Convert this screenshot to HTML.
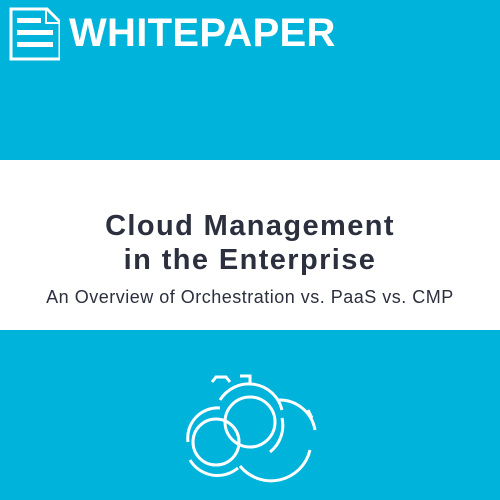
<!DOCTYPE html>
<html><head><style>
body{margin:0;width:500px;height:500px;background:#00b3db;position:relative;overflow:hidden;font-family:"Liberation Sans",sans-serif}
.band{position:absolute;left:0;top:160px;width:500px;height:170px;background:#fff}
.t{position:absolute;left:0;width:500px;text-align:center;color:#2b2f3e;white-space:nowrap}
</style></head><body>
<svg style="position:absolute;left:0;top:0" width="60" height="62">
<path d="M11 9 H47 L60 22 V59 H11 Z" fill="none" stroke="#fff" stroke-width="3"/>
<path d="M46 9 V23 H60" fill="none" stroke="#fff" stroke-width="2"/>
<rect x="17" y="18" width="24" height="5" fill="#fff"/>
<rect x="17" y="30" width="36" height="5" fill="#fff"/>
<rect x="17" y="42" width="36" height="5" fill="#fff"/>
</svg>
<div style="position:absolute;left:69px;top:11px;color:#fff;font-weight:bold;font-size:40px;letter-spacing:0.3px">WHITEPAPER</div>
<div class="band"></div>
<div class="t" style="top:210px;font-size:29px;font-weight:bold;letter-spacing:1.4px">Cloud Management</div>
<div class="t" style="top:244px;font-size:29px;font-weight:bold;letter-spacing:1.4px">in the Enterprise</div>
<div class="t" style="top:287px;font-size:18px;letter-spacing:0.5px">An Overview of Orchestration vs. PaaS vs. CMP</div>
<svg style="position:absolute;left:170px;top:370px" width="160" height="130" fill="none" stroke="#fff" stroke-width="3">
<circle cx="80" cy="52" r="25"/>
<circle cx="46" cy="72" r="23"/>
<path d="M50 30 A34 34 0 0 1 112 40 M18 72 A30 30 0 0 1 50 38 M20 90 A32 32 0 0 0 68 98 M100 82 A34 34 0 0 0 112 48"/>
<path d="M108 30 A36 36 0 0 1 145 60 M140 80 A40 40 0 0 1 70 96"/>
<path d="M42 12 l4 -5 h10 l4 5 M70 6 h10 v8 M138 40 l4 8"/>
</svg>
</body></html>
